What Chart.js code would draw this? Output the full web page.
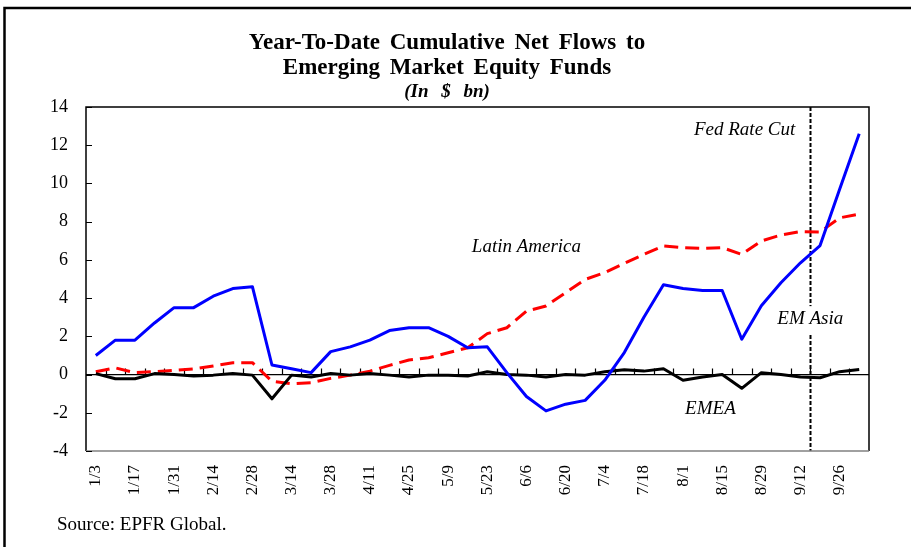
<!DOCTYPE html>
<html lang="en">
  <head>
    <meta charset="UTF-8" />
    <title>EM Equity Fund Flows</title>
    <script src="https://cdn.jsdelivr.net/npm/chart.js@4"></script>
    <style>
      body { margin: 0; background: #fff; }
    </style>
  </head>
  <body>
    <canvas id="myChart" width="911" height="547"></canvas>

    <script>
      // weekly dates, every other one is shown on the axis
      const weeks = ['1/3', '1/10', '1/17', '1/24', '1/31', '2/7', '2/14', '2/21', '2/28', '3/7',
        '3/14', '3/21', '3/28', '4/4', '4/11', '4/18', '4/25', '5/2', '5/9', '5/16',
        '5/23', '5/30', '6/6', '6/13', '6/20', '6/27', '7/4', '7/11', '7/18', '7/25',
        '8/1', '8/8', '8/15', '8/22', '8/29', '9/5', '9/12', '9/19', '9/26', '10/3'];

      const emAsia = [1.0, 1.8, 1.8, 2.7, 3.5, 3.5, 4.1, 4.5, 4.6, 0.5,
        0.3, 0.1, 1.2, 1.45, 1.8, 2.3, 2.45, 2.45, 2.0, 1.4,
        1.45, 0.1, -1.15, -1.9, -1.55, -1.35, -0.3, 1.15, 3.0, 4.7,
        4.5, 4.4, 4.4, 1.85, 3.6, 4.8, 5.85, 6.75, 9.7, 12.6];

      const latinAmerica = [0.15, 0.35, 0.1, 0.15, 0.22, 0.3, 0.45, 0.62, 0.62, -0.35,
        -0.48, -0.43, -0.2, -0.03, 0.18, 0.48, 0.76, 0.88, 1.14, 1.4,
        2.14, 2.45, 3.32, 3.59, 4.28, 4.98, 5.33, 5.82, 6.29, 6.73,
        6.64, 6.6, 6.64, 6.29, 6.99, 7.3, 7.48, 7.46, 8.2, 8.4];

      const emea = [0.05, -0.22, -0.22, 0.05, 0.0, -0.08, -0.03, 0.05, -0.03, -1.27,
        -0.03, -0.13, 0.05, -0.03, 0.05, -0.03, -0.13, -0.03, -0.03, -0.08,
        0.15, 0.0, -0.03, -0.13, 0.0, -0.03, 0.15, 0.25, 0.18, 0.3,
        -0.3, -0.13, 0.0, -0.72, 0.1, 0.0, -0.13, -0.17, 0.15, 0.27];

      const yMin = -4;
      const yMax = 14;
      const yStep = 2;
      const fedCutAt = 36.5; // between 9/12 and 9/19

      const serif = '"Liberation Serif", "Times New Roman", serif';

      // boxes, zero axis, fed line and the in-chart labels
      const decorations = {
        id: 'decorations',
        beforeDatasetsDraw(chart) {
          const { ctx, chartArea: a, scales: { x, y } } = chart;
          ctx.save();
          // zero line with week ticks
          const y0 = y.getPixelForValue(0);
          ctx.strokeStyle = '#000';
          ctx.lineWidth = 1.2;
          ctx.beginPath();
          ctx.moveTo(a.left, y0);
          ctx.lineTo(a.right, y0);
          for (let i = 0; i < weeks.length - 1; i++) {
            const px = Math.round(x.getPixelForValue(i + 0.5)) + 0.5;
            ctx.moveTo(px, y0);
            ctx.lineTo(px, y0 - 6);
          }
          ctx.stroke();
          // fed rate cut line
          const fx = Math.round(x.getPixelForValue(fedCutAt)) + 0.5;
          ctx.setLineDash([4, 2]);
          ctx.lineWidth = 2;
          ctx.beginPath();
          ctx.moveTo(fx, a.top);
          ctx.lineTo(fx, a.bottom);
          ctx.stroke();
          ctx.setLineDash([]);
          // white gap behind the EM Asia label
          ctx.font = 'italic 19px ' + serif;
          const w = ctx.measureText('EM Asia').width;
          const ly = y.getPixelForValue(2.9);
          ctx.fillStyle = '#fff';
          ctx.fillRect(fx - w / 2 - 2, ly - 13, w + 4, 27);
          ctx.restore();
        },
        afterDatasetsDraw(chart) {
          const { ctx, chartArea: a, scales: { x, y } } = chart;
          ctx.save();
          // plot box
          ctx.lineWidth = 1.5;
          ctx.strokeStyle = '#000';
          ctx.beginPath();
          ctx.moveTo(a.left, a.bottom);
          ctx.lineTo(a.left, a.top);
          ctx.lineTo(a.right, a.top);
          ctx.lineTo(a.right, a.bottom);
          ctx.stroke();
          ctx.strokeStyle = '#808080';
          ctx.beginPath();
          ctx.moveTo(a.left, a.bottom);
          ctx.lineTo(a.right, a.bottom);
          ctx.stroke();
          // y ticks pointing inwards
          ctx.strokeStyle = '#000';
          ctx.lineWidth = 1;
          ctx.beginPath();
          for (let v = yMin; v <= yMax; v += yStep) {
            const py = Math.round(y.getPixelForValue(v)) + 0.5;
            ctx.moveTo(a.left, py);
            ctx.lineTo(a.left + 6, py);
          }
          ctx.stroke();

          // series labels
          const fx = x.getPixelForValue(fedCutAt);
          ctx.fillStyle = '#000';
          ctx.font = 'italic 19px ' + serif;
          ctx.textBaseline = 'middle';
          ctx.textAlign = 'right';
          ctx.fillText('Fed Rate Cut', fx - 15, y.getPixelForValue(12.8));
          ctx.textAlign = 'center';
          ctx.fillText('Latin America', x.getPixelForValue(22), y.getPixelForValue(6.67));
          ctx.fillText('EM Asia', fx, y.getPixelForValue(2.9));
          ctx.fillText('EMEA', x.getPixelForValue(31.4), y.getPixelForValue(-1.8));

          // titles
          ctx.font = 'bold 23px ' + serif;
          ctx.wordSpacing = '4px';
          ctx.fillText('Year-To-Date Cumulative Net Flows to', 447, 43);
          ctx.fillText('Emerging Market Equity Funds', 447, 68);
          ctx.font = 'italic bold 19px ' + serif;
          ctx.wordSpacing = '8px';
          ctx.fillText('(In $ bn)', 447, 92);
          ctx.wordSpacing = '0px';

          // source note
          ctx.font = '19px ' + serif;
          ctx.textAlign = 'left';
          ctx.fillText('Source: EPFR Global.', 57, 525);

          // outer frame
          ctx.lineWidth = 2.5;
          ctx.beginPath();
          ctx.moveTo(4.5, chart.height);
          ctx.lineTo(4.5, 8);
          ctx.lineTo(chart.width, 8);
          ctx.stroke();
          ctx.restore();
        }
      };

      const ctx = document.getElementById('myChart').getContext('2d');
      const myChart = new Chart(ctx, {
        type: 'line',
        data: {
          labels: weeks,
          datasets: [
            {
              label: 'EM Asia',
              data: emAsia,
              borderColor: '#0000ff',
              borderWidth: 3
            },
            {
              label: 'EMEA',
              data: emea,
              borderColor: '#000000',
              borderWidth: 3
            },
            {
              label: 'Latin America',
              data: latinAmerica,
              borderColor: '#ff0000',
              borderDash: [14, 7],
              borderWidth: 3
            }
          ]
        },
        options: {
          responsive: false,
          animation: false,
          layout: { padding: { top: 107, right: 42, bottom: 0, left: 0 } },
          elements: {
            point: { radius: 0 },
            line: { tension: 0, borderCapStyle: 'butt', borderJoinStyle: 'round' }
          },
          plugins: {
            legend: { display: false },
            tooltip: { enabled: false }
          },
          scales: {
            x: {
              offset: true,
              grid: { display: false, drawTicks: false },
              border: { display: false },
              ticks: {
                autoSkip: false,
                minRotation: 90,
                maxRotation: 90,
                padding: 14,
                color: '#000',
                font: { family: serif, size: 17 },
                callback: (v, i) => (i % 2 === 0 ? weeks[i] : '')
              },
              afterFit: s => { s.height = 96; }
            },
            y: {
              min: yMin,
              max: yMax,
              grid: { display: false, drawTicks: false },
              border: { display: false },
              ticks: {
                stepSize: yStep,
                padding: 18,
                color: '#000',
                font: { family: serif, size: 18 }
              },
              afterFit: s => { s.width = 86; }
            }
          }
        },
        plugins: [decorations]
      });
    </script>
  </body>
</html>
